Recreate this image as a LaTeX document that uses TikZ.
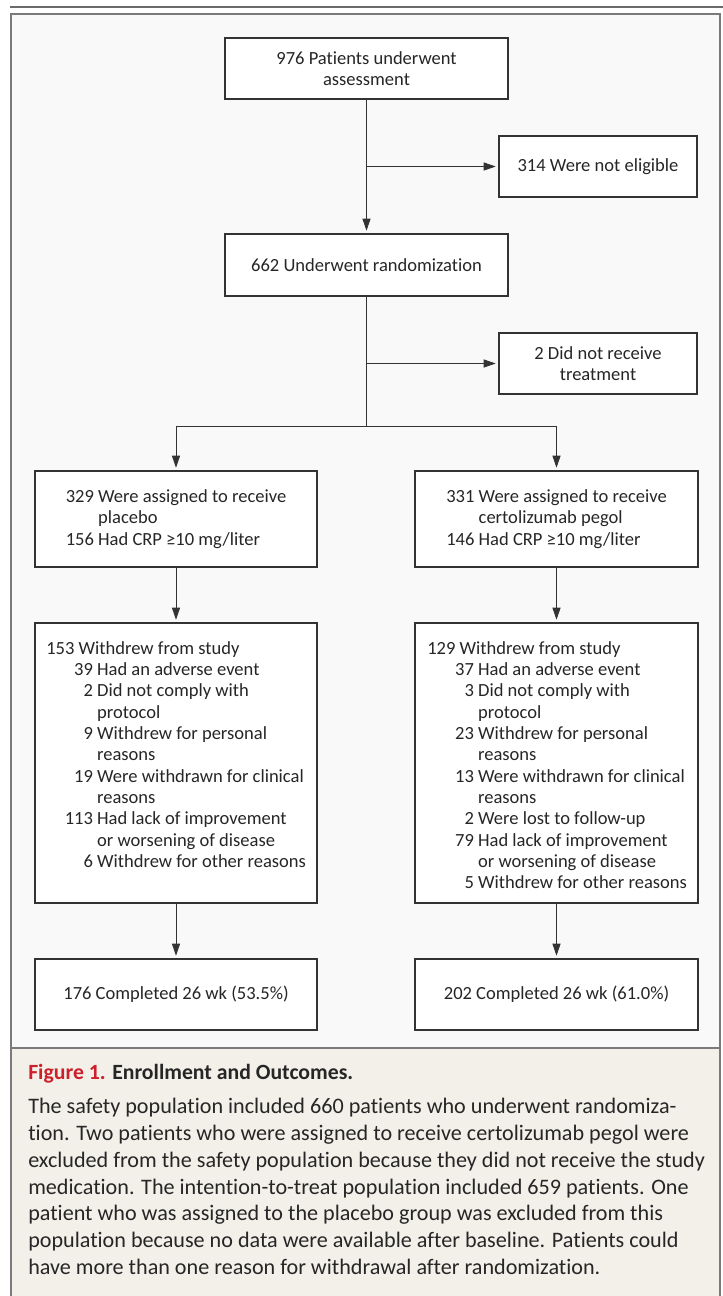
\documentclass[tikz,border=0pt]{standalone}
\usepackage{fontspec}
\setmainfont{Carlito}[Ligatures=NoCommon]
\usetikzlibrary{arrows.meta,positioning}
\definecolor{framegray}{HTML}{7A7A7A}
\definecolor{rulegray}{HTML}{6A6A6A}
\definecolor{boxline}{HTML}{333333}
\definecolor{panelbg}{HTML}{F9F9F9}
\definecolor{captionbg}{HTML}{F3F0EA}
\definecolor{figred}{HTML}{CD202C}
\definecolor{inktext}{HTML}{262626}
\newlength{\numw}
\setlength{\numw}{35pt}
\newcommand{\wdline}[2]{\makebox[\numw][r]{#1}\ #2}
\newcommand{\wdcont}[1]{\hspace*{\numw}\ #1}

\begin{document}
\begin{tikzpicture}[x=0.75pt, y=-0.75pt,
    >={Triangle[length=9pt,width=6pt]},
    box/.style={draw=boxline, line width=0.9pt, fill=white, text=inktext,
        font=\fontsize{13.9}{16}\selectfont, align=center, inner sep=0pt},
    listtext/.style={text=inktext, font=\fontsize{13.9}{16}\selectfont,
        align=left, inner sep=0pt},
    link/.style={draw=boxline, line width=0.7pt, shorten >=2pt}]
    \useasboundingbox (0,0) rectangle (723,1296);
    % frame and caption panel
    \draw[rulegray, line width=1.6pt] (10,6.7) -- (723,6.7);
    \fill[captionbg] (11,1048) rectangle (720,1300);
    \fill[panelbg] (11,14) rectangle (720,1048);
    \draw[framegray, line width=1.5pt] (11,1300) -- (11,14) -- (720,14) -- (720,1300);
    \draw[framegray, line width=1.5pt] (11,1048) -- (720,1048);

    % flow boxes
    \node[box, minimum width=212.25pt, minimum height=45.75pt] (assess) at (366.5,68.5) {976 Patients underwent\\assessment};
    \node[box, minimum width=148.5pt, minimum height=45.75pt] (notElig) at (598,166.5) {314 Were not eligible};
    \node[box, minimum width=212.25pt, minimum height=46.5pt] (rand) at (366.5,265) {662 Underwent randomization};
    \node[box, minimum width=148.5pt, minimum height=45.75pt] (noTreat) at (598,363.5) {2 Did not receive\\treatment};
    \coordinate (split) at (366.5,426);
    \node[box, align=left, minimum width=211.5pt, minimum height=72pt] (assignP) at (176,519)
        {329 Were assigned to receive\\\phantom{329}\ placebo\\156 Had CRP ≥10 mg/liter};
    \node[box, align=left, minimum width=212.25pt, minimum height=72pt] (assignC) at (556.5,519)
        {331 Were assigned to receive\\\phantom{331}\ certolizumab pegol\\146 Had CRP ≥10 mg/liter};
    \node[box, minimum width=211.5pt, minimum height=210pt] (wdP) at (176,763) {};
    \node[box, minimum width=212.25pt, minimum height=210pt] (wdC) at (556.5,763) {};
    \node[listtext, anchor=north west] (wdPtext) at (46,641) {153 Withdrew from study\\
        \wdline{39}{Had an adverse event}\\
        \wdline{2}{Did not comply with}\\
        \wdcont{protocol}\\
        \wdline{9}{Withdrew for personal}\\
        \wdcont{reasons}\\
        \wdline{19}{Were withdrawn for clinical}\\
        \wdcont{reasons}\\
        \wdline{113}{Had lack of improvement}\\
        \wdcont{or worsening of disease}\\
        \wdline{6}{Withdrew for other reasons}};
    \node[listtext, anchor=north west] (wdCtext) at (427,641) {129 Withdrew from study\\
        \wdline{37}{Had an adverse event}\\
        \wdline{3}{Did not comply with}\\
        \wdcont{protocol}\\
        \wdline{23}{Withdrew for personal}\\
        \wdcont{reasons}\\
        \wdline{13}{Were withdrawn for clinical}\\
        \wdcont{reasons}\\
        \wdline{2}{Were lost to follow-up}\\
        \wdline{79}{Had lack of improvement}\\
        \wdcont{or worsening of disease}\\
        \wdline{5}{Withdrew for other reasons}};
    \node[box, minimum width=211.5pt, minimum height=53.25pt] (compP) at (176,994.5) {176 Completed 26 wk (53.5\%)};
    \node[box, minimum width=212.25pt, minimum height=53.25pt] (compC) at (556.5,994.5) {202 Completed 26 wk (61.0\%)};

    % connectors
    \draw[link, ->] (assess.south) -- (rand.north);
    \draw[link, ->] (assess.south |- notElig.west) -- (notElig.west);
    \draw[link, shorten >=0pt] (rand.south) -- (split);
    \draw[link, ->] (rand.south |- noTreat.west) -- (noTreat.west);
    \draw[link, ->] (split) -| (assignP.north);
    \draw[link, ->] (split) -| (assignC.north);
    \draw[link, ->] (assignP.south) -- (wdP.north);
    \draw[link, ->] (assignC.south) -- (wdC.north);
    \draw[link, ->] (wdP.south) -- (compP.north);
    \draw[link, ->] (wdC.south) -- (compC.north);

    % caption
    \node[anchor=west, inner sep=0pt, font=\fontsize{16.3}{20}\selectfont\bfseries, text=inktext] (capTitle) at (28,1074)
        {{\color{figred}Figure 1.} Enrollment and Outcomes.};
    \node[anchor=north west, inner sep=0pt, align=left, font=\fontsize{16.6}{20.1}\selectfont, text=inktext] (capText) at (28,1098)
        {The safety population included 660 patients who underwent randomiza-\\
        tion. Two patients who were assigned to receive certolizumab pegol were\\
        excluded from the safety population because they did not receive the study\\
        medication. The intention-to-treat population included 659 patients. One\\
        patient who was assigned to the placebo group was excluded from this\\
        population because no data were available after baseline. Patients could\\
        have more than one reason for withdrawal after randomization.};
\end{tikzpicture}
\end{document}
